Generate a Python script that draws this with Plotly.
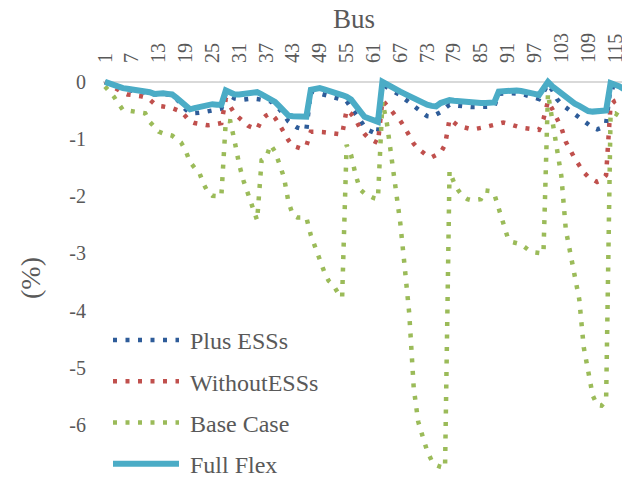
import plotly.graph_objects as go

bus = list(range(1, 119))
x_tick_vals = list(range(1, 119, 6))
y_tick_vals = [0, -1, -2, -3, -4, -5, -6, -7]
y_tick_text = ["0", "-1", "-2", "-3", "-4", "-5", "-6", "-7"]

plus_ess = [
    0.00, -0.04, -0.07, -0.10, -0.13, -0.14, -0.15, -0.16, -0.17, -0.18,
    -0.20, -0.22, -0.21, -0.21, -0.22, -0.23, -0.30, -0.40, -0.48, -0.55,
    -0.55, -0.54, -0.53, -0.51, -0.49, -0.48, -0.47, -0.20, -0.25, -0.29,
    -0.30, -0.31, -0.30, -0.29, -0.30, -0.31, -0.32, -0.34, -0.41, -0.48,
    -0.58, -0.69, -0.75, -0.80, -0.82, -0.84, -0.16, -0.18, -0.20, -0.21,
    -0.23, -0.25, -0.28, -0.31, -0.34, -0.45, -0.58, -0.69, -0.78, -0.85,
    -0.89, -0.92, -0.04, -0.10, -0.15, -0.19, -0.23, -0.30, -0.36, -0.43,
    -0.50, -0.56, -0.60, -0.61, -0.58, -0.53, -0.46, -0.40, -0.41, -0.42,
    -0.43, -0.43, -0.44, -0.44, -0.44, -0.44, -0.43, -0.43, -0.21, -0.20,
    -0.20, -0.20, -0.20, -0.21, -0.23, -0.25, -0.28, -0.30, -0.18, -0.04,
    -0.15, -0.30, -0.39, -0.45, -0.51, -0.57, -0.63, -0.69, -0.76, -0.80,
    -0.83, -0.80, -0.73, -0.08, -0.10, -0.13, -0.17, -0.20,
]

without_ess = [
    0.00, -0.05, -0.09, -0.14, -0.19, -0.22, -0.23, -0.23, -0.25, -0.27,
    -0.31, -0.38, -0.42, -0.43, -0.44, -0.46, -0.49, -0.52, -0.60, -0.69,
    -0.72, -0.74, -0.75, -0.76, -0.75, -0.74, -0.72, -0.30, -0.45, -0.56,
    -0.63, -0.71, -0.77, -0.80, -0.83, -0.66, -0.59, -0.55, -0.63, -0.75,
    -0.90, -1.02, -1.12, -1.15, -1.17, -1.12, -0.87, -0.87, -0.87, -0.88,
    -0.89, -0.90, -0.91, -0.92, -0.49, -0.56, -0.66, -0.81, -0.91, -0.99,
    -1.03, -1.07, -0.32, -0.40, -0.50, -0.60, -0.68, -0.80, -0.95, -1.08,
    -1.17, -1.24, -1.29, -1.32, -1.29, -1.24, -1.10, -0.65, -0.71, -0.77,
    -0.79, -0.81, -0.83, -0.82, -0.81, -0.79, -0.77, -0.75, -0.72, -0.71,
    -0.73, -0.76, -0.78, -0.80, -0.81, -0.82, -0.83, -0.84, -0.65, -0.34,
    -0.48, -0.62, -0.80, -1.05, -1.21, -1.34, -1.46, -1.58, -1.66, -1.71,
    -1.75, -1.72, -1.63, -0.40, -0.33, -0.30, -0.34, -0.38,
]

base_case = [
    -0.08, -0.17, -0.26, -0.38, -0.49, -0.50, -0.51, -0.52, -0.53, -0.55,
    -0.70, -0.79, -0.87, -0.90, -0.92, -0.94, -1.00, -1.06, -1.20, -1.40,
    -1.50, -1.57, -1.78, -1.93, -1.99, -2.00, -2.00, -0.68, -0.69, -1.05,
    -1.45, -1.74, -1.97, -2.22, -2.42, -1.37, -1.33, -1.10, -1.22, -1.44,
    -1.67, -2.10, -2.33, -2.37, -2.37, -2.37, -2.68, -2.90, -3.10, -3.32,
    -3.48, -3.55, -3.68, -3.77, -1.10, -1.28, -1.62, -1.88, -1.95, -2.00,
    -2.03, -2.05, -0.35, -0.72, -1.30, -1.90, -2.47, -3.25, -4.05, -5.35,
    -5.94, -6.20, -6.45, -6.62, -6.70, -6.73, -6.75, -1.56, -1.76, -1.90,
    -2.00, -2.05, -2.07, -2.06, -2.05, -1.90, -1.91, -1.96, -2.22, -2.52,
    -2.72, -2.80, -2.82, -2.84, -2.90, -2.96, -2.98, -3.00, -3.00, -0.20,
    -0.70, -1.10, -1.65, -2.59, -2.98, -3.42, -3.80, -4.64, -5.03, -5.48,
    -5.65, -5.66, -5.57, -0.55, -0.55, -0.60, -0.62, -0.65,
]

full_flex = [
    0.00, -0.03, -0.05, -0.08, -0.11, -0.12, -0.13, -0.14, -0.14, -0.15,
    -0.18, -0.21, -0.20, -0.20, -0.21, -0.22, -0.28, -0.35, -0.42, -0.48,
    -0.46, -0.44, -0.41, -0.39, -0.39, -0.40, -0.40, -0.15, -0.18, -0.22,
    -0.22, -0.21, -0.19, -0.17, -0.18, -0.22, -0.26, -0.30, -0.35, -0.43,
    -0.53, -0.59, -0.60, -0.61, -0.61, -0.61, -0.14, -0.12, -0.11, -0.13,
    -0.15, -0.17, -0.20, -0.23, -0.26, -0.31, -0.41, -0.51, -0.61, -0.64,
    -0.67, -0.70, 0.00, -0.05, -0.09, -0.13, -0.17, -0.21, -0.25, -0.29,
    -0.33, -0.37, -0.40, -0.42, -0.43, -0.37, -0.35, -0.32, -0.33, -0.34,
    -0.35, -0.35, -0.36, -0.36, -0.37, -0.37, -0.36, -0.36, -0.17, -0.16,
    -0.15, -0.14, -0.15, -0.16, -0.17, -0.19, -0.21, -0.23, -0.12, 0.00,
    -0.08, -0.14, -0.21, -0.28, -0.33, -0.38, -0.42, -0.47, -0.51, -0.52,
    -0.51, -0.51, -0.50, -0.02, -0.04, -0.08, -0.13, -0.17,
]

series = [
    ("Plus ESSs", plus_ess, "#2E5C99", 4.5, "4px,8.5px"),
    ("WithoutESSs", without_ess, "#C0504D", 4.5, "4px,8.5px"),
    ("Base Case", base_case, "#9BBB59", 4.5, "4px,8.5px"),
    ("Full Flex", full_flex, "#4BACC6", 6, "solid"),
]

fig = go.Figure()
for i, (name, vals, color, w, dash) in enumerate(series):
    fig.add_trace(go.Scatter(
        x=bus, y=vals, name="\u00a0" + name, mode="lines",
        line=dict(color=color, width=w, dash=dash),
        legendgroup=f"g{i}",
    ))

FONT = "Liberation Serif"
TXT = "#595959"
OFF = 8  # page body margin offset of the figure in the browser window
PL, PT, PH, PW = 103 - OFF, 75 - OFF, 413, 527


def px_x(x):
    return (x - OFF - PL) / PW


def px_y(y):
    return (PT + PH - (y - OFF)) / PH


fig.update_layout(
    width=630 - OFF, height=491 - OFF,
    margin=dict(l=PL, r=0, t=PT, b=3, autoexpand=False),
    paper_bgcolor="white", plot_bgcolor="white",
    font=dict(family=FONT, color=TXT),
    showlegend=True,
    legend=dict(
        x=px_x(108), y=px_y(318), xanchor="left", yanchor="top",
        bgcolor="rgba(0,0,0,0)", font=dict(family=FONT, size=24, color=TXT),
        itemwidth=66, tracegroupgap=7,
    ),
    xaxis=dict(
        side="top", range=[0.55, 118.34], automargin=False,
        tickmode="array", tickvals=x_tick_vals,
        ticktext=[str(v) for v in x_tick_vals],
        tickangle=-90, tickfont=dict(family=FONT, size=20, color=TXT),
        showgrid=False, zeroline=False, showline=False, ticks="",
        ticklabelstandoff=11,
    ),
    yaxis=dict(
        range=[-7.1, 0.12], automargin=False,
        tickmode="array", tickvals=y_tick_vals, ticktext=y_tick_text,
        tickfont=dict(family=FONT, size=20, color=TXT),
        showgrid=False, zeroline=True, zerolinecolor="#D9D9D9", zerolinewidth=2,
        showline=False, ticks="", ticklabelstandoff=16,
    ),
    annotations=[
        dict(text="Bus", xref="paper", yref="paper", x=px_x(354),
             y=px_y(19), xanchor="center", yanchor="middle",
             showarrow=False, font=dict(family=FONT, size=27, color=TXT)),
        dict(text="(%)", xref="paper", yref="paper", x=px_x(30),
             y=px_y(278), xanchor="center", yanchor="middle",
             textangle=-90, showarrow=False,
             font=dict(family=FONT, size=28, color=TXT)),
    ],
)

fig.write_html("out.html")
